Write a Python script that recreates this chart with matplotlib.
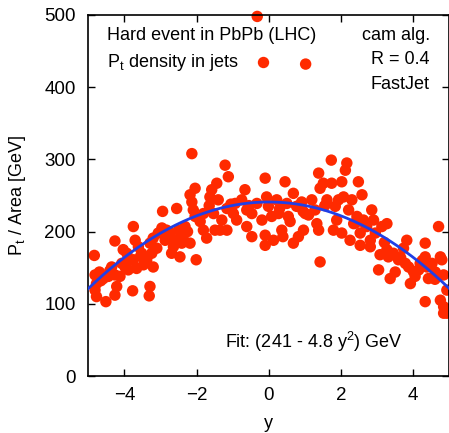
import matplotlib
matplotlib.use("Agg")
import matplotlib.pyplot as plt
import numpy as np

plt.rcParams['font.family'] = ['Liberation Sans', 'DejaVu Sans']
plt.rcParams['mathtext.fontset'] = 'custom'
plt.rcParams['mathtext.rm'] = 'Liberation Sans'
plt.rcParams['mathtext.it'] = 'Liberation Sans'

# data: rapidity y and Pt/Area [GeV]
rap = [-4.83, -4.81, -4.69, -4.77, -4.81, -4.77, -4.51, -4.58, -4.44, -4.35,
       -4.26, -4.26, -4.21, -4.12, -4.26, -4.07, -4.03, -3.93, -3.98, -3.89,
       -3.75, -3.77, -3.75, -3.70, -3.66, -3.61, -3.52, -3.47, -3.38, -3.29,
       -3.29, -3.31, -3.24, -3.20, -3.20, -3.10, -3.06, -2.94, -2.96, -2.87,
       -2.83, -2.73, -2.69, -2.64, -2.55, -2.55, -2.50, -2.46, -2.41, -2.36,
       -2.32, -2.18, -2.18, -2.13, -2.09, -2.04, -2.13, -2.01, -2.04, -1.90,
       -1.81, -1.72, -1.81, -1.63, -1.58, -1.53, -1.49, -1.44, -1.40, -1.35,
       -1.30, -1.21, -1.12, -1.16, -1.16, -0.98, -0.93, -0.89, -0.75, -0.66,
       -0.61, -0.61, -0.47, -0.47, -0.33, -0.19, -0.10, -0.10, -0.10, -0.06,
       -0.01, 0.08, 0.13, 0.22, 0.27, 0.36, 0.39, 0.45, 0.50, 0.54,
       0.59, 0.68, 0.68, 0.77, 0.82, 0.91, 0.96, 1.01, 1.10, 1.19,
       1.28, 1.38, 1.33, 1.38, 1.42, 1.42, 1.51, 1.61, 1.73, 1.74,
       1.79, 1.84, 1.88, 1.93, 2.02, 2.07, 2.02, 2.12, 2.16, 2.21,
       2.25, 2.30, 2.35, 2.44, 2.48, 2.53, 2.53, 2.58, 2.62, 2.71,
       2.81, 2.81, 2.85, 2.90, 2.95, 3.04, 3.08, 3.13, 3.27, 3.27,
       3.31, 3.36, 3.45, 3.50, 3.59, 3.73, 3.78, 3.82, 3.87, 3.92,
       4.05, 4.15, 4.19, 4.33, 4.33, 4.38, 4.33, 4.42, 4.52, 4.61,
       4.70, 4.75, 4.75, 4.79, 4.84, 4.84, 4.84, 4.93, 4.93,
       -4.65, -4.40, -3.85, -3.55, -2.78, -2.25, -1.65, -1.05, -0.55, 0.30,
       0.95, 1.55, 2.40, 2.68, 3.20, 3.65, 4.00, 4.25, 4.60,
       -0.32, 1.02]
rho = [167, 140, 144, 128, 119, 110, 103, 135, 138, 151,
       140, 112, 124, 138, 187, 156, 175, 170, 151, 147,
       207, 118, 161, 188, 149, 179, 170, 154, 161, 184,
       124, 111, 170, 151, 191, 177, 198, 228, 205, 188,
       202, 198, 170, 179, 232, 188, 202, 165, 184, 195,
       207, 184, 251, 241, 230, 260, 308, 161, 221, 214,
       202, 191, 225, 248, 258, 225, 202, 267, 244, 202,
       216, 292, 276, 232, 202, 225, 239, 216, 244, 258,
       207, 230, 193, 225, 239, 216, 274, 195, 181, 248,
       235, 221, 188, 244, 225, 202, 193, 269, 239, 221,
       214, 253, 184, 235, 193, 241, 202, 225, 223, 244,
       230, 281, 211, 202, 158, 260, 267, 244, 299, 267,
       202, 235, 216, 244, 269, 248, 198, 285, 295, 230,
       188, 244, 211, 221, 269, 198, 181, 251, 216, 207,
       188, 179, 230, 216, 198, 147, 168, 207, 211, 175,
       165, 135, 170, 144, 161, 177, 156, 188, 151, 128,
       138, 147, 156, 184, 165, 151, 103, 135, 156, 144,
       207, 105, 165, 161, 140, 96, 87, 119, 87,
       132, 146, 160, 166, 192, 200, 236, 238, 236, 232,
       228, 236, 212, 209, 185, 164, 145, 160, 134,
       498, 432]

fit_a = 241.0
fit_b = 4.8

fig = plt.figure(figsize=(4.49, 4.33), dpi=100)
ax = fig.add_axes([0.1964, 0.1316, 0.8045, 0.8338])

red = '#ff2a00'
ax.scatter(rap, rho, s=68, color=red, edgecolors='none', zorder=2, clip_on=False)
yy = np.linspace(-5, 5, 300)
ax.plot(yy, fit_a - fit_b * yy**2, color='#1f3fe6', lw=2.0, zorder=3)

ax.set_xlim(-5, 5)
ax.set_ylim(0, 500)
ax.set_xticks([-4, -2, 0, 2, 4])
ax.set_yticks([0, 100, 200, 300, 400, 500])
ax.tick_params(direction='in', length=5, width=1, top=True, right=True,
               labelsize=13.5, colors='black')
ax.tick_params(axis='y', pad=9)
ax.tick_params(axis='x', pad=8)
for s in ax.spines.values():
    s.set_linewidth(1.2)
ax.set_xlabel('y', fontsize=13, labelpad=8)
ax.set_ylabel(r'P$_\mathrm{t}$ / Area [GeV]', fontsize=13, labelpad=12)

tk = dict(transform=ax.transAxes, fontsize=13, va='baseline')
ax.text(0.0526, 0.931, 'Hard event in PbPb (LHC)', ha='left', **tk)
ax.text(0.0526, 0.857, r'P$_\mathrm{t}$ density in jets', ha='left', **tk)
ax.text(0.946, 0.931, 'cam alg.', ha='right', **tk)
ax.text(0.946, 0.863, 'R = 0.4', ha='right', **tk)
ax.text(0.946, 0.794, 'FastJet', ha='right', **tk)
ax.text(0.379, 0.078, r'Fit: (241 - 4.8 y$^2$) GeV', ha='left', **tk)
ax.plot([0.484], [0.870], 'o', ms=8.2, color=red, mec='none',
        transform=ax.transAxes, clip_on=False)

fig.savefig('out.png', dpi=100)
